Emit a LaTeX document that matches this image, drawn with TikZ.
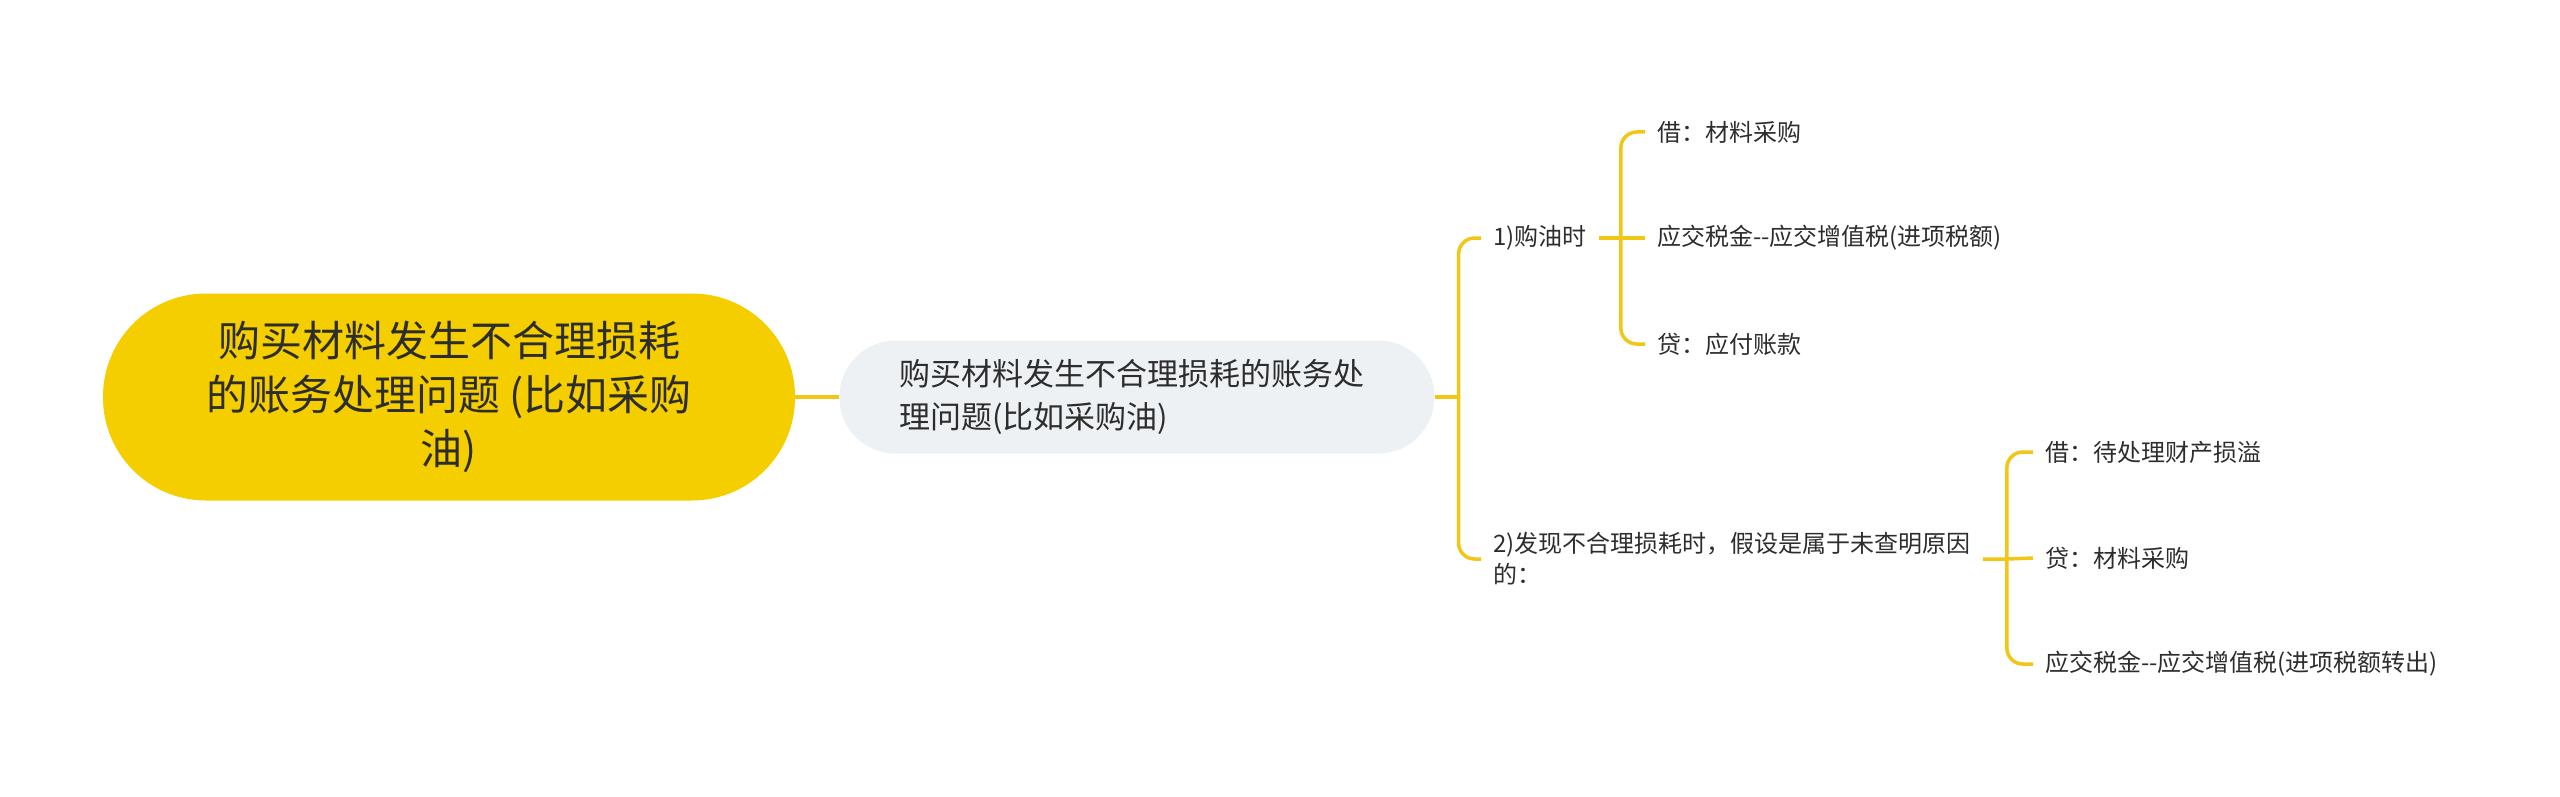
\documentclass[tikz,border=0pt]{standalone}
\usepackage{fontspec}
\newfontfamily\cjk{Noto Sans CJK SC}
\usepackage{tikz}
\usetikzlibrary{positioning, calc}
\definecolor{mapyellow}{RGB}{245,206,0}
\definecolor{linkyellow}{RGB}{242,198,20}
\definecolor{topicgray}{RGB}{238,241,244}
\definecolor{inkgray}{RGB}{45,45,45}

\begin{document}
\begin{tikzpicture}[x=1pt, y=-1pt,
  rootnode/.style={fill=mapyellow, rounded corners=103pt, minimum width=692pt, minimum height=207pt, align=center, text=inkgray, font=\cjk\fontsize{42}{54}\selectfont},
  topicnode/.style={fill=topicgray, rounded corners=56pt, minimum width=595pt, minimum height=113pt, inner xsep=60pt, text width=475pt, align=left, text=inkgray, font=\cjk\fontsize{31}{43}\selectfont},
  leafnode/.style={anchor=west, inner xsep=12pt, inner ysep=0pt, align=left, text=inkgray, font=\cjk\fontsize{24}{31}\selectfont},
  link/.style={draw=linkyellow, line width=3.5pt},
  bentlink/.style={link, rounded corners=16pt}
]
  \useasboundingbox (0,0) rectangle (2560,797);

  \node[rootnode] (root) at (449,397) {购买材料发生不合理损耗\\的账务处理问题 (比如采购\\油)};
  \node[topicnode, right=44pt of root] (topic) {购买材料发生不合理损耗的账务处\\理问题(比如采购油)};

  \node[leafnode] (buy) at (1481,238) {1)购油时};
  \node[leafnode] (loss) at (1481,559) {2)发现不合理损耗时，假设是属于未查明原因\\的：};

  \node[leafnode] (buydebit) at (1645,132) {借：材料采购};
  \node[leafnode] (buytax) at (1645,238) {应交税金--应交增值税(进项税额)};
  \node[leafnode] (buycredit) at (1645,344) {贷：应付账款};

  \node[leafnode] (lossdebit) at (2033,452) {借：待处理财产损溢};
  \node[leafnode] (losscredit) at (2033,558) {贷：材料采购};
  \node[leafnode] (losstax) at (2033,664) {应交税金--应交增值税(进项税额转出)};

  \draw[link] (root) -- (topic);
  \draw[link] (topic.east) -- ++(24,0) coordinate (fork);
  \draw[bentlink] (fork) |- (buy.west);
  \draw[bentlink] (fork) |- (loss.west);

  \draw[link] (buy.east) -- ++(22,0) coordinate (buyfork) -- (buytax.west);
  \draw[bentlink] (buyfork) |- (buydebit.west);
  \draw[bentlink] (buyfork) |- (buycredit.west);

  \draw[link] (loss.east) -- ++(24,0) coordinate (lossfork) -- (losscredit.west);
  \draw[bentlink] (lossfork) |- (lossdebit.west);
  \draw[bentlink] (lossfork) |- (losstax.west);
\end{tikzpicture}
\end{document}
